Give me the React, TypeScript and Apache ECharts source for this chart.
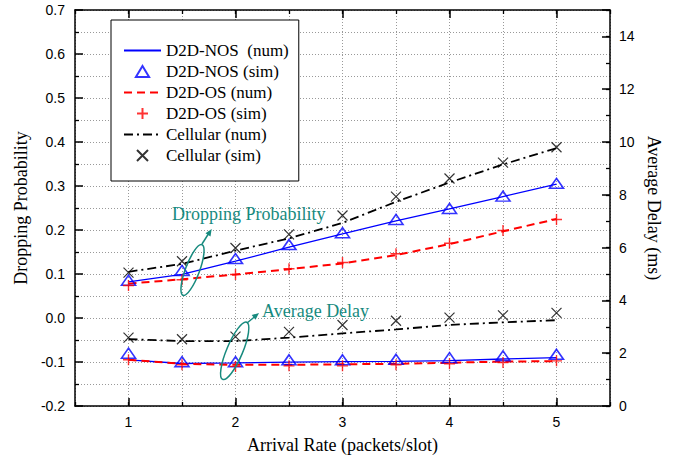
import React, { useEffect, useRef } from "react";
import * as echarts from "echarts";

const arrivalRates = [1, 1.5, 2, 2.5, 3, 3.5, 4, 4.5, 5];
const xTickLabels = [1, 2, 3, 4, 5];

// Dropping probability (left axis)
const dropNosNum = [0.082, 0.099, 0.129, 0.161, 0.191, 0.221, 0.248, 0.276, 0.304];
const dropNosSim = [0.086, 0.108, 0.135, 0.167, 0.194, 0.224, 0.249, 0.277, 0.306];
const dropOsNum = [0.078, 0.088, 0.099, 0.111, 0.124, 0.143, 0.168, 0.197, 0.225];
const dropOsSim = [0.074, 0.087, 0.099, 0.112, 0.126, 0.146, 0.17, 0.199, 0.224];
const dropCellNum = [0.105, 0.123, 0.153, 0.181, 0.216, 0.264, 0.308, 0.349, 0.386];
const dropCellSim = [0.103, 0.129, 0.159, 0.19, 0.233, 0.276, 0.317, 0.353, 0.388];

// Average delay (right axis, ms)
const delayNosNum = [1.75, 1.61, 1.63, 1.66, 1.68, 1.69, 1.72, 1.78, 1.83];
const delayNosSim = [2.0, 1.68, 1.68, 1.75, 1.75, 1.77, 1.83, 1.9, 1.96];
const delayOsNum = [1.75, 1.6, 1.56, 1.56, 1.58, 1.6, 1.64, 1.68, 1.7];
const delayOsSim = [1.75, 1.56, 1.5, 1.52, 1.52, 1.56, 1.6, 1.65, 1.71];
const delayCellNum = [2.53, 2.46, 2.46, 2.59, 2.75, 2.9, 3.07, 3.17, 3.25];
const delayCellSim = [2.59, 2.53, 2.63, 2.81, 3.07, 3.23, 3.35, 3.43, 3.53];

const names = [
  "D2D-NOS  (num)",
  "D2D-NOS (sim)",
  "D2D-OS (num)",
  "D2D-OS (sim)",
  "Cellular (num)",
  "Cellular (sim)",
];

const TEAL = "#178a7e";
const SERIF = "Liberation Serif, Times New Roman, serif";
const SANS = "Liberation Sans, Arial, sans-serif";
const TRIANGLE = "path://M6,0L12,10L0,10Z";
const PLUS = "path://M5,0L5,10M0,5L10,5";
const CROSS = "path://M0,0L10,10M10,0L0,10";
const CLEAR = "rgba(0,0,0,0)";

const pairs = (ys: number[]) => arrivalRates.map((x, i) => [x, ys[i]]);

function buildSeries(axis: number, vals: number[][]) {
  const [nosNum, nosSim, osNum, osSim, cellNum, cellSim] = vals;
  const lineCommon = {
    type: "line", yAxisIndex: axis, symbol: "none", z: 3,
    itemStyle: { color: CLEAR, borderColor: CLEAR, borderWidth: 0 },
  };
  const scatCommon = { type: "scatter", yAxisIndex: axis, symbolKeepAspect: true, z: 4 };
  return [
    {
      ...lineCommon, name: names[0], data: pairs(nosNum),
      lineStyle: { color: "#0000ff", width: 1.3, type: "solid" },
    },
    {
      ...scatCommon, name: names[1], data: pairs(nosSim), symbol: TRIANGLE,
      symbolSize: [14, 12], itemStyle: { color: CLEAR, borderColor: "#0000ff", borderWidth: 1.6 },
    },
    {
      ...lineCommon, name: names[2], data: pairs(osNum),
      lineStyle: { color: "#ff0000", width: 2, type: [8, 5] },
    },
    {
      ...scatCommon, name: names[3], data: pairs(osSim), symbol: PLUS,
      symbolSize: 11, itemStyle: { color: "#ff0000", borderColor: "#ff0000", borderWidth: 1.4 },
    },
    {
      ...lineCommon, name: names[4], data: pairs(cellNum),
      lineStyle: { color: "#000000", width: 1.8, type: [9, 4, 2, 4] },
    },
    {
      ...scatCommon, name: names[5], data: pairs(cellSim), symbol: CROSS,
      symbolSize: 10, itemStyle: { color: "#000000", borderColor: "#000000", borderWidth: 1.2 },
    },
  ];
}

const gridLine = { show: true, lineStyle: { color: "#999", width: 1, type: [1, 2] } };
const frame = { show: true, onZero: false, lineStyle: { color: "#000", width: 1.5 } };
const noLine = { show: false, onZero: false };

export default function App() {
  const ref = useRef<HTMLDivElement>(null);
  useEffect(() => {
    if (!ref.current) return;
    const chart = echarts.init(ref.current, undefined, { renderer: "svg" });
    const xBase = { type: "value", min: 0.5, max: 5.5, interval: 0.5 };
    chart.setOption({
      animation: false,
      backgroundColor: "#fff",
      grid: { left: 75, right: 71, top: 10, bottom: 51 },
      legend: {
        data: names,
        orient: "vertical",
        left: 111,
        top: 20,
        padding: [22, 10, 17, 12],
        itemWidth: 37,
        itemHeight: 11,
        itemGap: 4,
        symbolKeepAspect: true,
        backgroundColor: "#fff",
        borderColor: "#000",
        borderWidth: 1,
        textStyle: { fontFamily: SERIF, fontSize: 17, color: "#000" },
        z: 10,
      },
      xAxis: [
        {
          ...xBase, position: "bottom",
          name: "Arrival Rate (packets/slot)", nameLocation: "middle", nameGap: 30,
          nameTextStyle: { fontFamily: SERIF, fontSize: 18, color: "#000" },
          axisLine: frame,
          axisTick: { show: true, inside: true, length: 4, lineStyle: { color: "#000", width: 1.3 } },
          axisLabel: {
            show: true, margin: 9, fontFamily: SANS, fontSize: 14, color: "#000",
            customValues: xTickLabels, formatter: (v: number) => String(v),
          },
          splitLine: gridLine,
        },
        {
          ...xBase, position: "bottom",
          axisLine: noLine,
          axisTick: { show: true, inside: true, length: 8, customValues: xTickLabels, lineStyle: { color: "#000", width: 1.5 } },
          axisLabel: { show: false },
          splitLine: { show: false },
        },
        {
          ...xBase, position: "top",
          axisLine: frame,
          axisTick: { show: true, inside: true, length: 4, lineStyle: { color: "#000", width: 1.3 } },
          axisLabel: { show: false },
          splitLine: { show: false },
        },
        {
          ...xBase, position: "top",
          axisLine: noLine,
          axisTick: { show: true, inside: true, length: 8, customValues: xTickLabels, lineStyle: { color: "#000", width: 1.5 } },
          axisLabel: { show: false },
          splitLine: { show: false },
        },
      ],
      yAxis: [
        {
          type: "value", min: -0.2, max: 0.7, interval: 0.1, position: "left",
          name: "Dropping Probability", nameLocation: "middle", nameGap: 42,
          nameTextStyle: { fontFamily: SERIF, fontSize: 18, color: "#000" },
          axisLine: frame,
          axisTick: { show: true, inside: true, length: 8, lineStyle: { color: "#000", width: 1.5 } },
          minorTick: { show: true, splitNumber: 2, length: 4, lineStyle: { color: "#000", width: 1.3 } },
          axisLabel: {
            margin: 10, fontFamily: SANS, fontSize: 14, color: "#000",
            formatter: (v: number) => (Math.abs(v) < 1e-9 ? 0 : v).toFixed(1),
          },
          splitLine: gridLine,
          minorSplitLine: gridLine,
        },
        {
          type: "value", min: 0, max: 15, interval: 2, position: "right",
          name: "Average Delay (ms)", nameLocation: "middle", nameGap: 35, nameRotate: -90,
          nameTextStyle: { fontFamily: SERIF, fontSize: 18, color: "#000" },
          axisLine: frame,
          axisTick: { show: true, inside: true, length: 8, lineStyle: { color: "#000", width: 1.5 } },
          axisLabel: {
            margin: 9, fontFamily: SANS, fontSize: 14, color: "#000",
            formatter: (v: number) => (v > 14 ? "" : String(v)),
          },
          splitLine: { show: false },
        },
        {
          type: "value", min: 0, max: 15, interval: 1, position: "right",
          axisLine: noLine,
          axisTick: { show: true, inside: true, length: 4, lineStyle: { color: "#000", width: 1.3 } },
          axisLabel: { show: false },
          splitLine: { show: false },
        },
      ],
      graphic: [
        {
          type: "text", left: 172, top: 205, z: 20,
          style: { text: "Dropping Probability", fill: TEAL, font: `18px ${SERIF}` },
        },
        {
          type: "ellipse", z: 20, x: 192.5, y: 270, rotation: -0.36,
          shape: { cx: 0, cy: 0, rx: 7, ry: 27 },
          style: { fill: "none", stroke: TEAL, lineWidth: 1.5 },
        },
        {
          type: "line", z: 20, shape: { x1: 202, y1: 244, x2: 209, y2: 233 },
          style: { stroke: TEAL, lineWidth: 1.5 },
        },
        {
          type: "polygon", z: 20,
          shape: { points: [[211.7, 229], [210.5, 236.5], [205.5, 233.3]] },
          style: { fill: TEAL },
        },
        {
          type: "text", left: 262, top: 302, z: 20,
          style: { text: "Average Delay", fill: TEAL, font: `18px ${SERIF}` },
        },
        {
          type: "ellipse", z: 20, x: 234.7, y: 350.8, rotation: -0.4,
          shape: { cx: 0, cy: 0, rx: 8, ry: 31 },
          style: { fill: "none", stroke: TEAL, lineWidth: 1.5 },
        },
        {
          type: "line", z: 20, shape: { x1: 247, y1: 323, x2: 255, y2: 316.5 },
          style: { stroke: TEAL, lineWidth: 1.5 },
        },
        {
          type: "polygon", z: 20,
          shape: { points: [[259, 313], [255.5, 319.7], [251.7, 315.1]] },
          style: { fill: TEAL },
        },
      ],
      series: [
        ...buildSeries(0, [dropNosNum, dropNosSim, dropOsNum, dropOsSim, dropCellNum, dropCellSim]),
        ...buildSeries(1, [delayNosNum, delayNosSim, delayOsNum, delayOsSim, delayCellNum, delayCellSim]),
      ],
    });
    return () => chart.dispose();
  }, []);
  return (
    <div
      ref={ref}
      style={{ position: "absolute", left: 0, top: 0, width: 681, height: 459, background: "#fff" }}
    />
  );
}
